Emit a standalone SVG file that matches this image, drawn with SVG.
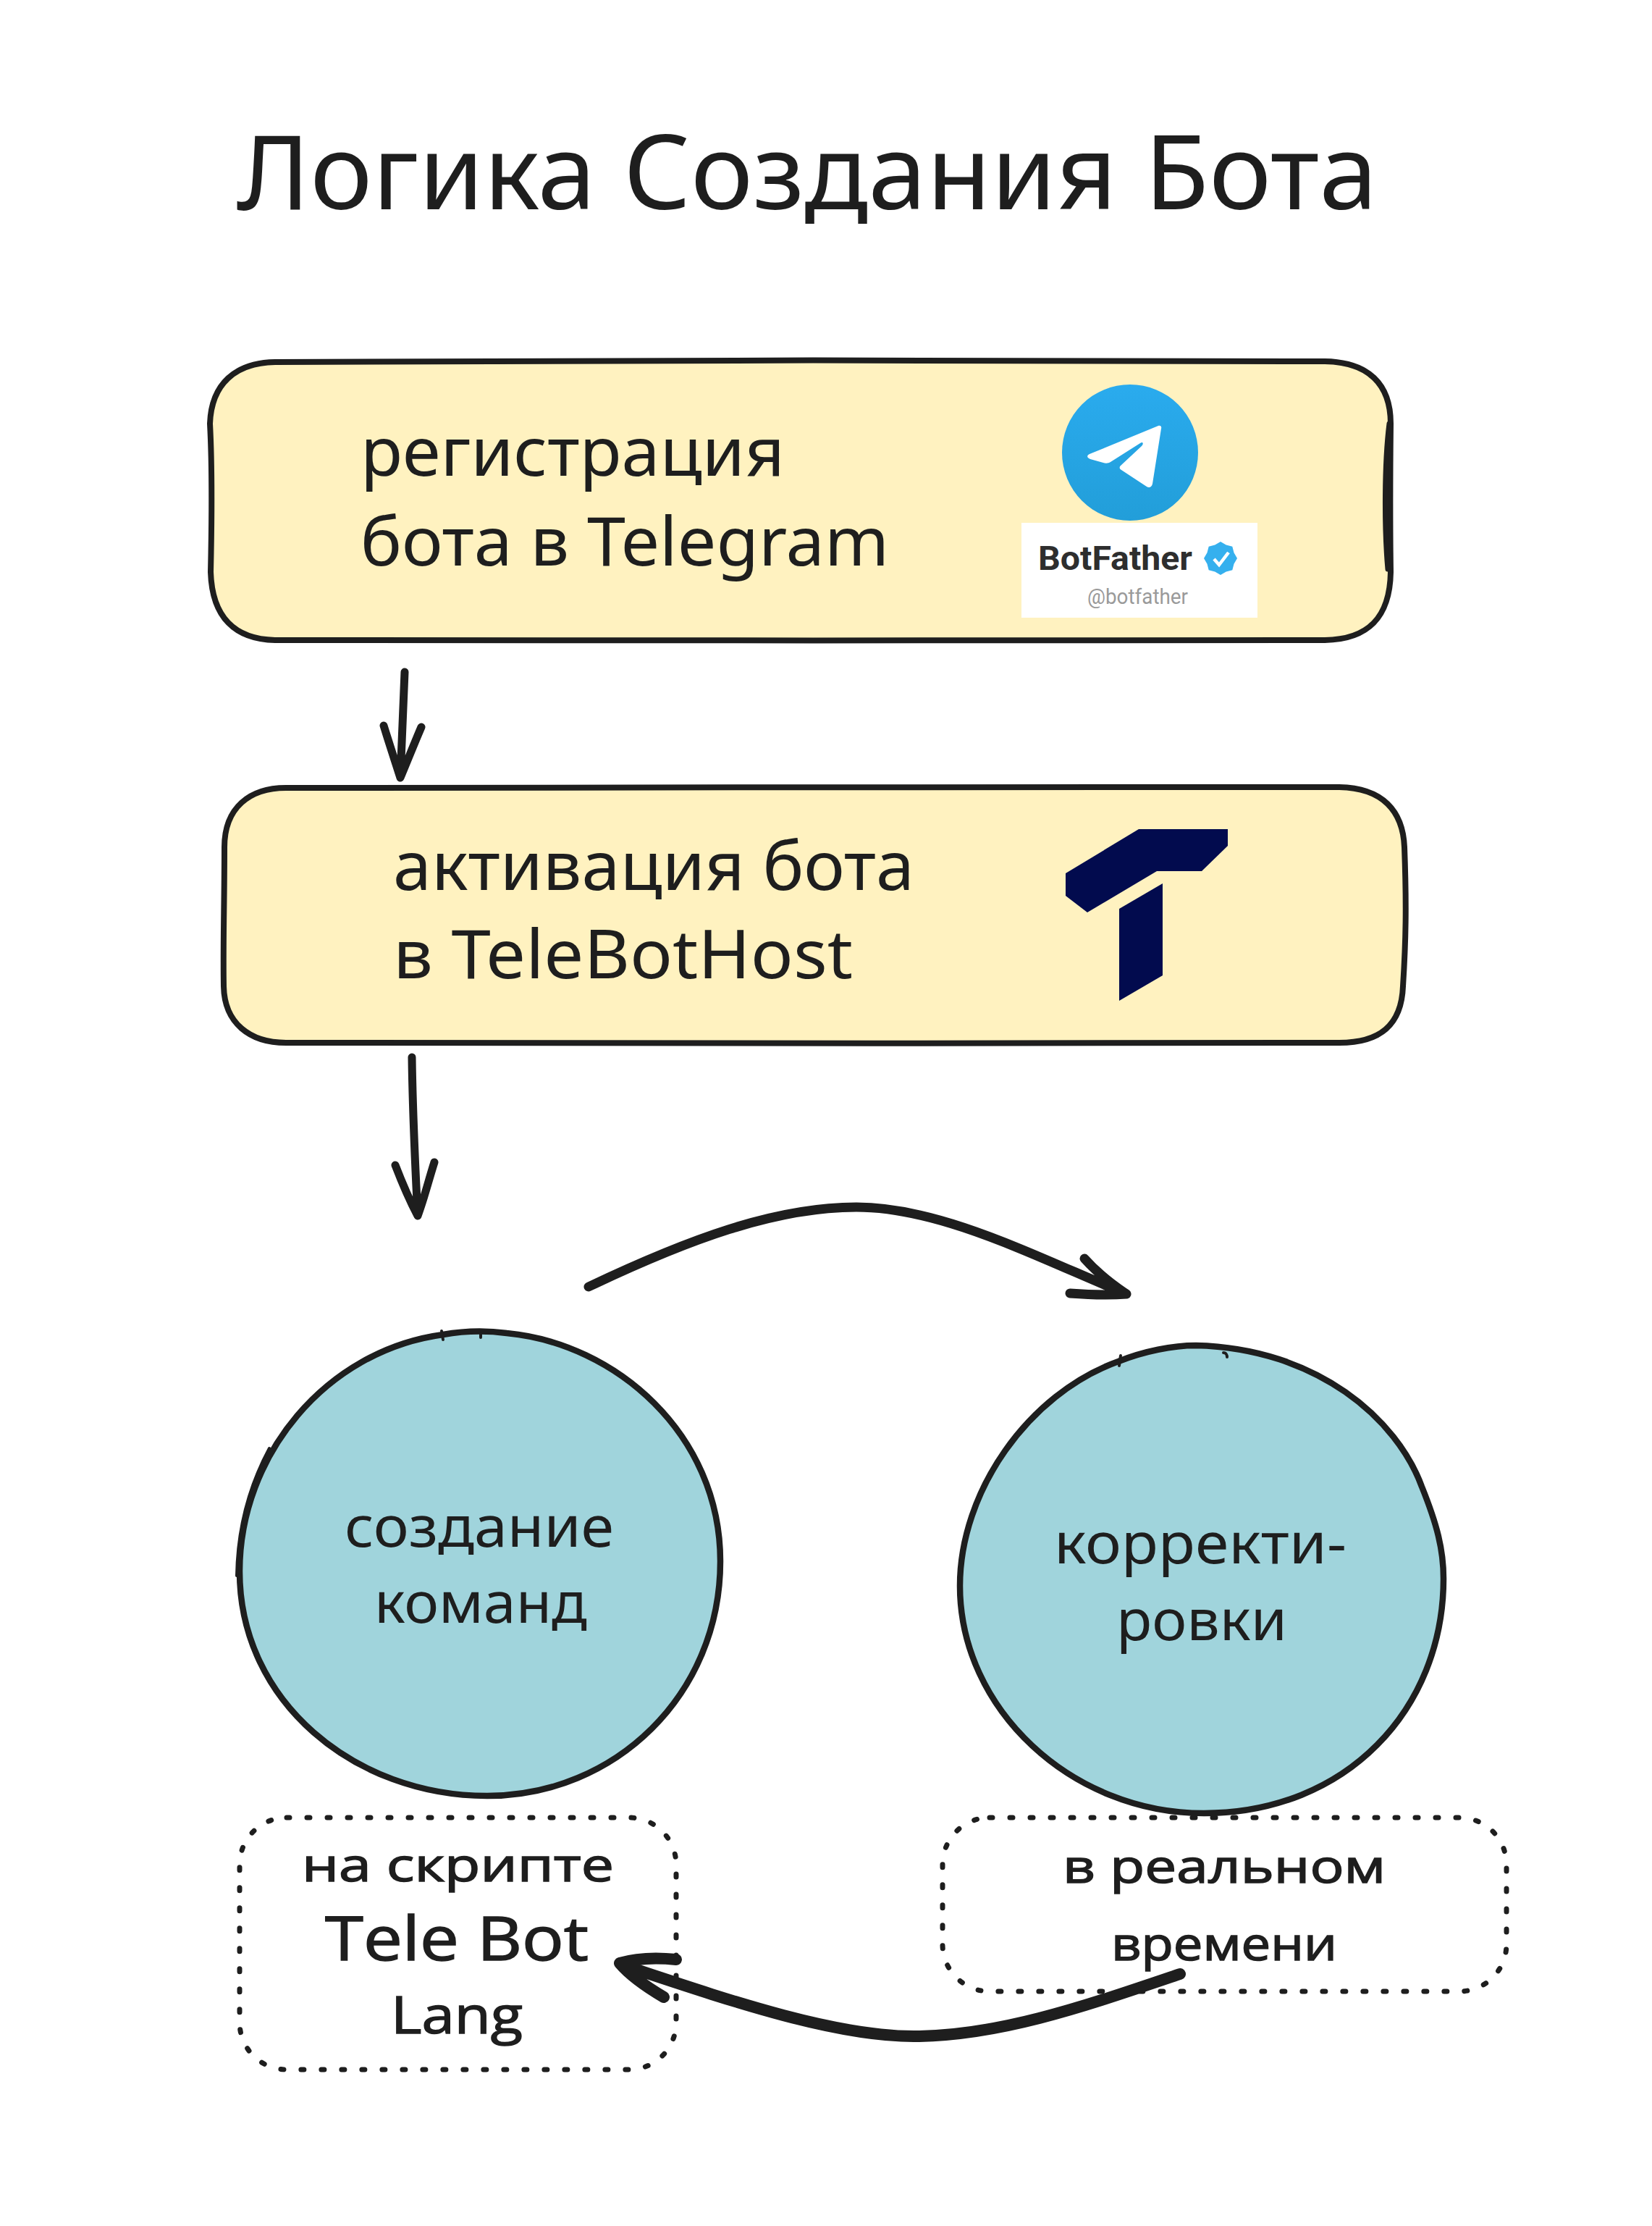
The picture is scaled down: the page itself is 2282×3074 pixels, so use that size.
<svg xmlns="http://www.w3.org/2000/svg" width="2282" height="3074" viewBox="0 0 2282 3074">
<style>
.main{font-family:"Noto Sans","Open Sans",sans-serif;fill:#1e1e1e}
.hand{font-family:"Open Sans","Noto Sans",sans-serif;fill:#1e1e1e;stroke:#1e1e1e;stroke-width:1.5}
.box{fill:#fff2c0;stroke:#1e1e1e;stroke-width:8}
.circ{fill:#a0d4dc;stroke:#1e1e1e;stroke-width:8.5}
.line{fill:none;stroke:#1e1e1e;stroke-linecap:round}
.dot{fill:none;stroke:#1e1e1e;stroke-width:7;stroke-linecap:round;stroke-dasharray:4 24}
.conn{fill:none;stroke:#1e1e1e;stroke-width:11;stroke-linecap:round;stroke-linejoin:round}
.arc{stroke-width:13}
.thick{stroke-width:16}
</style>
<defs>
<linearGradient id="tg" x1="0" y1="0" x2="0" y2="1"><stop offset="0" stop-color="#2aabee"/><stop offset="1" stop-color="#229ed9"/></linearGradient>
</defs>
<rect width="2282" height="3074" fill="#ffffff"/>
<g id="title"><text class="main" x="327" y="289" font-size="143" textLength="1576" lengthAdjust="spacingAndGlyphs">Логика Создания Бота</text></g>

<g id="node-register">
<path class="box" d="M380 500C800 497 1400 497 1830 499C1890 500 1921 530 1921 585C1920 680 1920 720 1921 790C1920 853 1890 883 1830 884C1400 885 800 884 380 884C325 883 293 853 291 790C293 700 293 640 290 585C292 530 325 501 380 500Z"/>
<path class="line" stroke-width="7" d="M1919 585C1912 640 1912 730 1917 786"/>
<text class="main" font-size="94" x="498" y="657" textLength="586" lengthAdjust="spacingAndGlyphs">регистрация</text>
<text class="main" font-size="94" x="498" y="781" textLength="730" lengthAdjust="spacingAndGlyphs">бота в Telegram</text>
<circle cx="1561" cy="625" r="94" fill="url(#tg)"/>
<path d="M1600 588C1603 587 1605 589 1604 592L1592 668C1591 673 1587 674 1584 672L1549 649C1546 647 1546 645 1548 643L1577 616C1580 613 1579 609 1575 612L1534 638C1531 640 1527 640 1524 639L1506 634C1501 632 1501 629 1505 627Z" fill="#ffffff"/>
<rect x="1411" y="722" width="326" height="131" fill="#ffffff"/>
<text x="1434" y="787" font-family="Roboto,sans-serif" font-weight="700" font-size="47" fill="#2e2e2e" textLength="213" lengthAdjust="spacingAndGlyphs">BotFather</text>
<polygon points="1709,771 1704.5,778.7 1702.3,787.3 1693.7,789.5 1686,794 1678.3,789.5 1669.7,787.3 1667.5,778.7 1663,771 1667.5,763.3 1669.7,754.7 1678.3,752.5 1686,748 1693.7,752.5 1702.3,754.7 1704.5,763.3" fill="#35b0ee"/>
<path d="M1677 772L1684 780L1697 763" fill="none" stroke="#ffffff" stroke-width="4.5"/>
<text x="1502" y="834" font-family="Roboto,sans-serif" font-size="30" fill="#9a9a9a" textLength="139" lengthAdjust="spacingAndGlyphs">@botfather</text>
</g>

<g id="node-activate">
<path class="box" d="M395 1088C800 1086 1400 1088 1850 1087C1910 1088 1938 1120 1940 1170C1943 1250 1942 1300 1938 1362C1936 1417 1905 1440 1850 1440C1400 1441 800 1441 395 1440C345 1440 310 1413 309 1362C308 1300 310 1250 310 1170C310 1115 345 1088 395 1088Z"/>
<text class="main" font-size="94" x="543" y="1229" textLength="720" lengthAdjust="spacingAndGlyphs">активация бота</text>
<text class="main" font-size="94" x="543" y="1351" textLength="635" lengthAdjust="spacingAndGlyphs">в TeleBotHost</text>
<path fill="#020b4e" d="M1573 1145H1696V1168L1660 1203H1598L1502 1260L1472 1237V1206Z"/>
<path fill="#020b4e" d="M1606 1220V1347L1546 1382V1255Z"/>
</g>

<g id="node-commands">
<path class="circ" d="M612 1843C640 1838 670 1837 700 1841C850 1855 995 1980 995 2156C995 2340 850 2480 673 2480C490 2480 331 2350 331 2170C331 2010 450 1865 612 1843"/>
<path class="line" stroke-width="4" d="M327 2176C328 2110 345 2050 372 2000"/>
<path class="line" stroke-width="4" d="M610 1838L612 1850M664 1842L664 1847"/>
<text class="main" font-size="78" x="662" y="2136" text-anchor="middle" textLength="372" lengthAdjust="spacingAndGlyphs">создание</text>
<text class="main" font-size="78" x="664" y="2241" text-anchor="middle" textLength="294" lengthAdjust="spacingAndGlyphs">команд</text>
</g>

<g id="node-fixes">
<path class="circ" d="M1545 1880C1580 1866 1620 1858 1652 1858C1820 1862 1930 1960 1964 2053C1985 2105 1994 2140 1994 2180C1994 2360 1860 2504 1663 2504C1480 2504 1326 2360 1326 2190C1326 2060 1420 1925 1545 1880"/>
<path class="line" stroke-width="4" d="M1548 1872L1546 1886M1690 1868C1694 1868 1695 1872 1695 1874"/>
<text class="main" font-size="78" x="1658" y="2159" text-anchor="middle" textLength="404" lengthAdjust="spacingAndGlyphs">корректи-</text>
<text class="main" font-size="78" x="1660" y="2265" text-anchor="middle" textLength="236" lengthAdjust="spacingAndGlyphs">ровки</text>
</g>

<g id="note-script">
<rect class="dot" x="331" y="2510" width="603" height="348" rx="65"/>
<text class="hand" font-size="64" x="417" y="2598" textLength="431" lengthAdjust="spacingAndGlyphs">на скрипте</text>
<text class="hand" font-size="84" x="449" y="2707" textLength="364" lengthAdjust="spacingAndGlyphs">Tele Bot</text>
<text class="hand" font-size="72" x="540" y="2808" textLength="182" lengthAdjust="spacingAndGlyphs">Lang</text>
</g>

<g id="note-realtime">
<rect class="dot" x="1302" y="2510" width="779" height="240" rx="65"/>
<text class="hand" font-size="64" x="1468" y="2600" textLength="446" lengthAdjust="spacingAndGlyphs">в реальном</text>
<text class="hand" font-size="64" x="1535" y="2707" textLength="312" lengthAdjust="spacingAndGlyphs">времени</text>
</g>

<g id="connectors">
<path class="conn" d="M559 928L553 1074M530 1002C538 1028 546 1052 553 1074C563 1050 573 1025 582 1004"/>
<path class="conn" d="M569 1460C570 1540 574 1620 577 1679M546 1609C556 1635 566 1658 577 1679C586 1655 592 1630 600 1605"/>
<path class="conn arc" d="M813 1777C950 1712 1070 1667 1183 1667C1300 1667 1430 1735 1556 1787M1498 1738C1515 1757 1535 1773 1556 1787C1530 1789 1505 1788 1478 1786"/>
<path class="conn thick" d="M1630 2726C1500 2770 1380 2812 1262 2812C1150 2812 1000 2760 858 2713M934 2706C905 2703 880 2704 856 2711C872 2730 895 2745 917 2758"/>
</g>
</svg>
